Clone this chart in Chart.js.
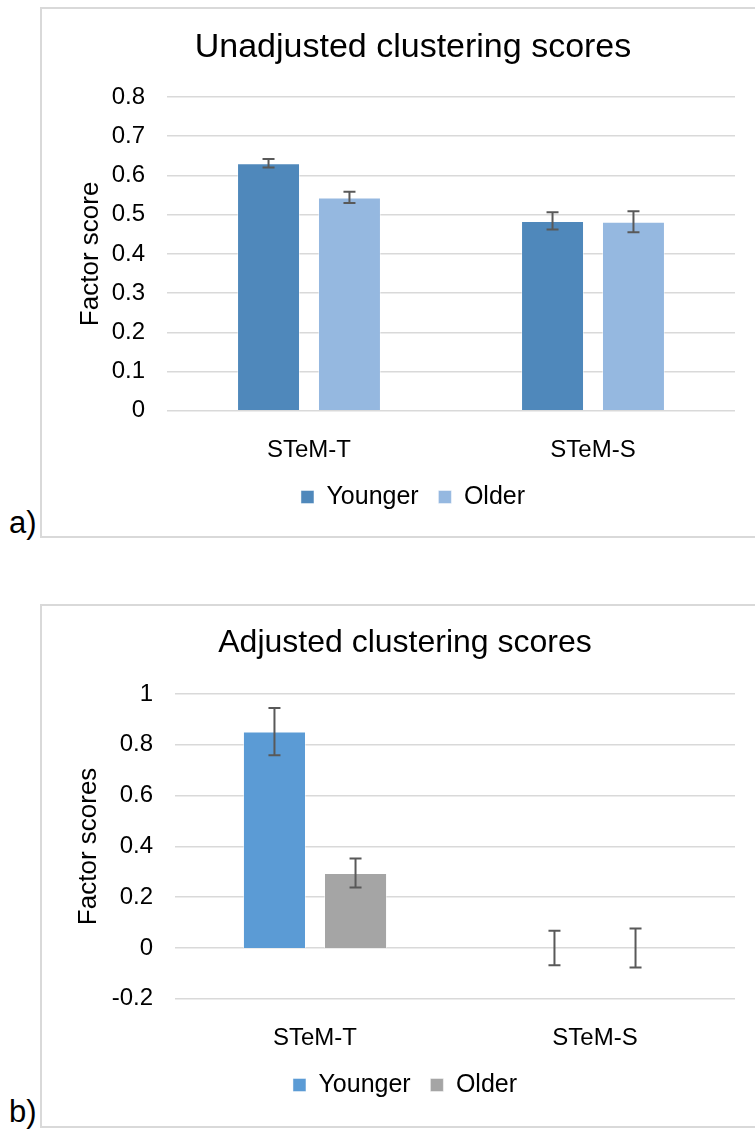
<!DOCTYPE html>
<html>
<head>
<meta charset="utf-8">
<script src="https://cdn.jsdelivr.net/npm/chart.js@4/dist/chart.umd.min.js"></script>
<style>
  body { margin: 0; background: #fff; width: 755px; height: 1129px; overflow: hidden; position: relative; font-family: "Liberation Sans", Arial, sans-serif; }
  .panel { position: absolute; left: 40px; width: 760px; border: 2px solid #d9d9d9; box-sizing: border-box; }
  .tag { position: absolute; left: 9px; font-size: 31px; color: #000; line-height: 1; }
  canvas { position: absolute; left: 40px; }
</style>
</head>
<body>
<div class="panel" style="top:7px;height:531px"></div>
<div class="panel" style="top:604px;height:524px"></div>
<div class="tag" style="top:507px">a)</div>
<div class="tag" style="top:1096px">b)</div>
<canvas id="chart1" width="736" height="530" style="top:7px"></canvas>
<canvas id="chart2" width="736" height="522" style="top:604px"></canvas>
<script>
// Datos
const categories = ['STeM-T', 'STeM-S'];
const seriesNames = ['Younger', 'Older'];

// a) sin ajustar
const unadjYounger = [0.631, 0.484];
const unadjOlder = [0.544, 0.482];
const unadjYoungerErr = [0.011, 0.022];
const unadjOlderErr = [0.0145, 0.027];

// b) ajustado
const adjYounger = [0.852, 0];
const adjOlder = [0.295, 0];
const adjYoungerErr = [0.093, 0.068];
const adjOlderErr = [0.057, 0.077];

const FONT = '"Liberation Sans", Arial, sans-serif';
Chart.defaults.font.family = FONT;
Chart.defaults.color = '#000';

// barras de error, dibujadas con la escala y del gráfico
const errorBars = {
  id: 'errorBars',
  afterDatasetsDraw(chart) {
    const ctx = chart.ctx;
    const y = chart.scales.y;
    ctx.save();
    ctx.strokeStyle = '#595959';
    ctx.lineWidth = 2;
    chart.data.datasets.forEach((ds, i) => {
      const meta = chart.getDatasetMeta(i);
      meta.data.forEach((bar, j) => {
        const v = ds.data[j], e = ds.errors[j];
        const top = y.getPixelForValue(v + e);
        const bot = y.getPixelForValue(v - e);
        ctx.beginPath();
        ctx.moveTo(bar.x, top); ctx.lineTo(bar.x, bot);
        ctx.moveTo(bar.x - 6, top); ctx.lineTo(bar.x + 6, top);
        ctx.moveTo(bar.x - 6, bot); ctx.lineTo(bar.x + 6, bot);
        ctx.stroke();
      });
    });
    ctx.restore();
  }
};

function makeConfig(opts) {
  return {
    type: 'bar',
    data: {
      labels: categories,
      datasets: [
        { label: seriesNames[0], data: opts.younger, errors: opts.youngerErr, backgroundColor: opts.colors[0],
          borderColor: 'rgba(255,255,255,0.45)', borderWidth: 1,
          categoryPercentage: opts.catPct, barPercentage: 0.778 },
        { label: seriesNames[1], data: opts.older, errors: opts.olderErr, backgroundColor: opts.colors[1],
          borderColor: 'rgba(255,255,255,0.45)', borderWidth: 1,
          categoryPercentage: opts.catPct, barPercentage: 0.778 },
      ],
    },
    options: {
      responsive: false,
      animation: false,
      layout: { padding: { left: opts.padL, right: 41 - opts.extraR, top: 0, bottom: opts.padB } },
      plugins: {
        title: {
          display: true, text: opts.title, color: '#000',
          font: { size: opts.titleSize, weight: 'normal' },
          padding: { top: opts.titleTop, bottom: opts.titleBottom },
        },
        legend: {
          position: 'bottom',
          labels: { boxWidth: 13, boxHeight: 13, padding: 19.7, font: { size: 25 }, color: '#000' },
        },
        tooltip: { enabled: false },
      },
      scales: {
        x: {
          afterFit: (scale) => { scale.height = 54; },
          grid: { display: false, drawTicks: false },
          border: { display: false },
          ticks: { padding: 25, font: { size: 24 }, color: '#000' },
        },
        y: {
          min: opts.min, max: opts.max,
          afterFit: (scale) => { scale.width = opts.yWidth; },
          grid: { color: '#d9d9d9', lineWidth: 1.5, drawTicks: false },
          border: { display: false },
          ticks: {
            stepSize: opts.step, padding: 22, font: { size: 24 }, color: '#000',
            callback: (v) => String(Number(v.toFixed(1))),
          },
          title: { display: true, text: opts.yTitle, font: { size: 26 }, color: '#000', padding: { top: 4 } },
        },
        // espacio vacío a la derecha para centrar título y leyenda como en el original
        pad: {
          type: 'linear', position: 'right', display: true,
          afterFit: (scale) => { scale.width = opts.extraR; },
          grid: { display: false, drawTicks: false },
          border: { display: false },
          ticks: { display: false },
        },
      },
    },
    plugins: [errorBars],
  };
}

const config1 = makeConfig({
  title: 'Unadjusted clustering scores', titleSize: 34, yTitle: 'Factor score',
  younger: unadjYounger, older: unadjOlder, youngerErr: unadjYoungerErr, olderErr: unadjOlderErr,
  colors: ['#4f88bb', '#95b8e0'], min: 0, max: 0.8, step: 0.1,
  catPct: 0.570, padL: 31, yWidth: 96, padB: 17.5, titleTop: 20.6, titleBottom: 28.6, extraR: 20,
});

const config2 = makeConfig({
  title: 'Adjusted clustering scores', titleSize: 32, yTitle: 'Factor scores',
  younger: adjYounger, older: adjOlder, youngerErr: adjYoungerErr, olderErr: adjOlderErr,
  colors: ['#5b9bd5', '#a5a5a5'], min: -0.2, max: 1, step: 0.2,
  catPct: 0.579, padL: 29, yWidth: 106, padB: 18.5, titleTop: 19.8, titleBottom: 31.8, extraR: 6,
});

new Chart(document.getElementById('chart1'), config1);
new Chart(document.getElementById('chart2'), config2);
</script>
</body>
</html>
